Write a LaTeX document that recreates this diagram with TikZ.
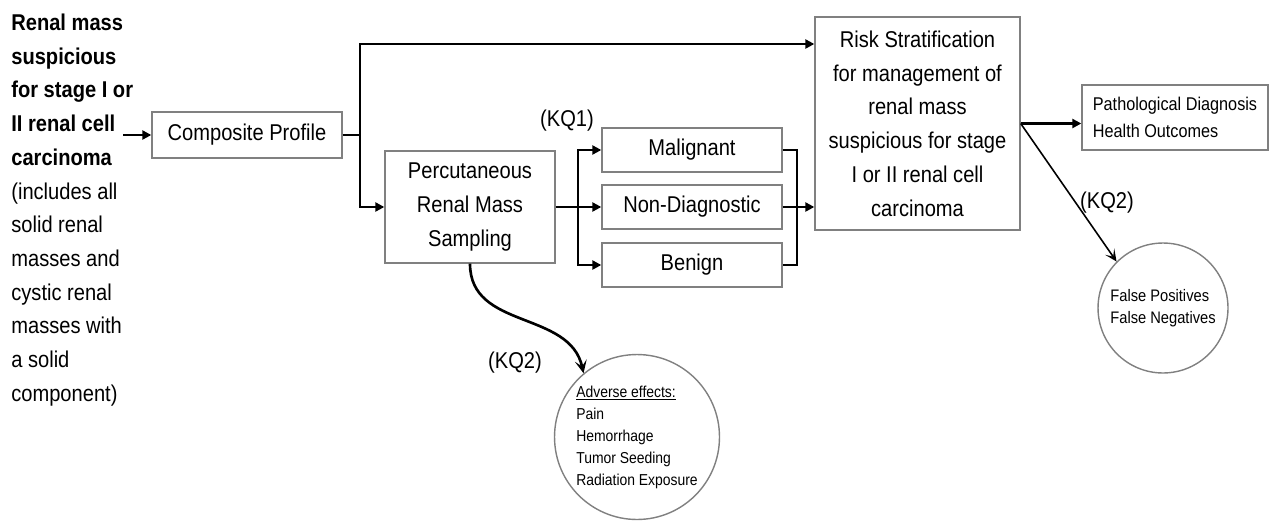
\documentclass[tikz,border=0pt]{standalone}
\usepackage{fontspec}
\setmainfont[FakeStretch=0.88]{Liberation Sans}
\usetikzlibrary{arrows.meta}

\begin{document}
\begin{tikzpicture}[x=0.02cm,y=-0.02cm,
	box/.style={draw=black!50,line width=0.8pt,inner sep=0,align=center,font=\fontsize{13}{19.2}\selectfont},
	circ/.style={draw=black!50,line width=0.8pt,circle,inner sep=0,align=left},
	link/.style={line width=1.4pt},
	arr/.style={line width=1.4pt,-{Triangle[length=1.8mm,width=1.8mm]}},
	bentarr/.style={line width=1.5pt,-{Stealth[length=2.6mm,width=2.4mm,inset=1.2mm]}},
	diagarr/.style={line width=0.9pt,-{Stealth[length=2.4mm,width=2.2mm,inset=1.2mm]}}]
	\useasboundingbox (0,0) rectangle (1277,521);
	\node[anchor=west,align=left,inner sep=0,font=\fontsize{13}{19.2}\selectfont] (mass) at (11,210)
		{\textbf{Renal mass}\\\textbf{suspicious}\\\textbf{for stage I or}\\\textbf{II renal cell}\\\textbf{carcinoma}\\(includes all\\solid renal\\masses and\\cystic renal\\masses with\\a solid\\component)};
	\node[box,minimum width=3.8cm,minimum height=0.92cm] (profile) at (247,135) {Composite Profile};
	\node[box,minimum width=3.4cm,minimum height=2.24cm] (sampling) at (470,207) {Percutaneous\\Renal Mass\\Sampling};
	\node[box,minimum width=3.6cm,minimum height=0.88cm] (malignant) at (692,150) {Malignant};
	\node[box,minimum width=3.6cm,minimum height=0.88cm] (nondiag) at (692,207) {Non-Diagnostic};
	\node[box,minimum width=3.6cm,minimum height=0.88cm] (benign) at (692,265) {Benign};
	\node[box,minimum width=4.1cm,minimum height=4.26cm] (risk) at (917.5,123.5)
		{Risk Stratification\\for management of\\renal mass\\suspicious for stage\\I or II renal cell\\carcinoma};
	\node[box,align=left,minimum width=3.72cm,minimum height=1.3cm,font=\fontsize{10.5}{15}\selectfont] (outcomes) at (1175,117.5)
		{Pathological Diagnosis\\Health Outcomes};
	\node[circ,minimum size=2.6cm,font=\fontsize{9.5}{12.5}\selectfont] (falses) at (1163,308) {False Positives\\False Negatives};
	\node[circ,minimum size=3.3cm,font=\fontsize{9}{12.5}\selectfont] (adverse) at (637,437)
		{\underline{Adverse effects:}\\Pain\\Hemorrhage\\Tumor Seeding\\Radiation Exposure};
	\node[font=\fontsize{13}{19.2}\selectfont] (kqone) at (567,121) {(KQ1)};
	\node[font=\fontsize{13}{19.2}\selectfont] (kqtwo) at (515,363) {(KQ2)};
	\node[font=\fontsize{13}{19.2}\selectfont] (kqthree) at (1107,203) {(KQ2)};
	% profile and its two branches
	\draw[arr] ([xshift=-0.2cm]mass.east |- profile.west) -- (profile.west);
	\coordinate (fork) at (360,135);
	\draw[link] (profile.east) -- (fork);
	\draw[arr] (fork) |- (risk.west |- 0,44);
	\draw[arr] (fork) |- (sampling.west);
	% sampling results
	\coordinate (split) at (578,207);
	\draw[link] (sampling.east) -- (split);
	\foreach \res in {malignant,nondiag,benign}
	{
		\draw[arr] (split) |- (\res.west);
	}
	\coordinate (join) at (797,207);
	\draw[link] (malignant.east) -| (join) |- (benign.east);
	\draw[link] (nondiag.east) -- (join);
	\draw[arr] (join) -- (join -| risk.west);
	% outcomes
	\draw[arr] (risk.east) -- (risk.east -| outcomes.west);
	\draw[diagarr] (risk.east) -- (falses.135);
	\draw[bentarr] (sampling.south) .. controls (470,330) and (570,310) .. (adverse.130);
\end{tikzpicture}
\end{document}
